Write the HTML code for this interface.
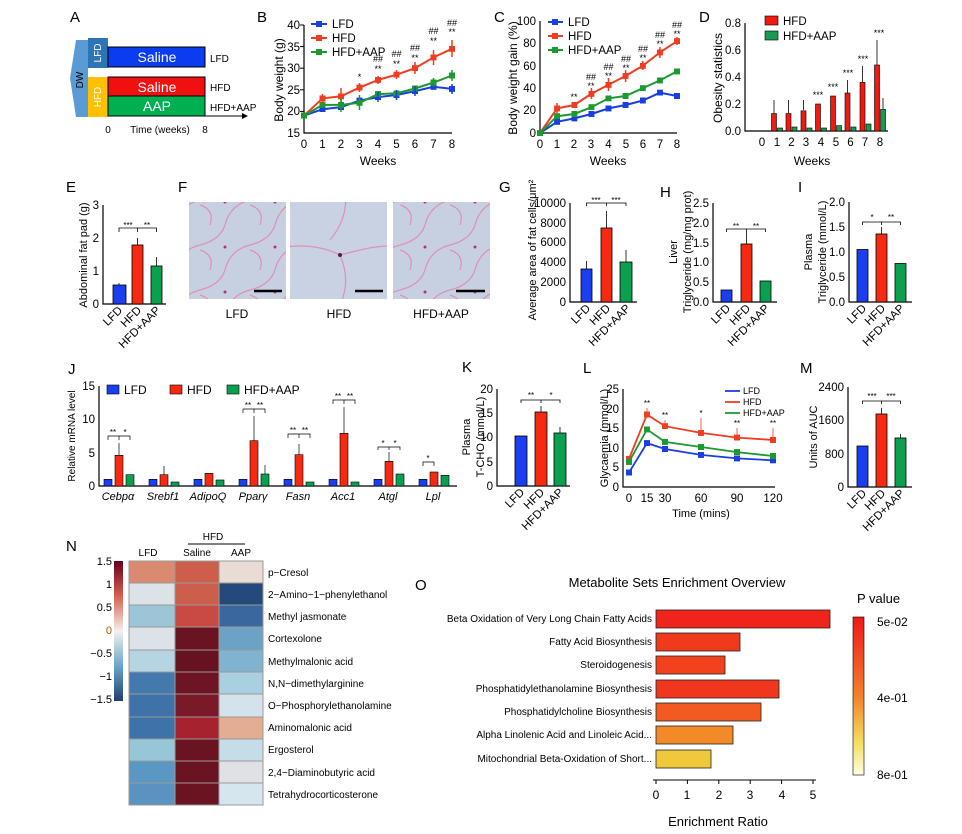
<!DOCTYPE html>
<html><head><meta charset="utf-8"><style>
body{margin:0;background:#fff}
svg{display:block;font-family:"Liberation Sans",Arial,sans-serif}
.t{font-size:11.5px}.s{font-size:10px}.L{font-size:15px}
.ax{stroke:#000;stroke-width:1.2;fill:none}
.mb{marker-start:url(#mb);marker-mid:url(#mb);marker-end:url(#mb)}
.mr{marker-start:url(#mr);marker-mid:url(#mr);marker-end:url(#mr)}
.mg{marker-start:url(#mg);marker-mid:url(#mg);marker-end:url(#mg)}
</style></head><body>
<svg width="962" height="834" viewBox="0 0 962 834" xmlns="http://www.w3.org/2000/svg">
<defs>
<marker id="mb" markerWidth="6" markerHeight="6" refX="3" refY="3" markerUnits="userSpaceOnUse"><rect width="6" height="6" fill="#1a3ee0"/></marker>
<marker id="mr" markerWidth="6" markerHeight="6" refX="3" refY="3" markerUnits="userSpaceOnUse"><rect width="6" height="6" fill="#f03c20"/></marker>
<marker id="mg" markerWidth="6" markerHeight="6" refX="3" refY="3" markerUnits="userSpaceOnUse"><rect width="6" height="6" fill="#1a9a30"/></marker>
</defs>
<!-- A -->
<text x="70" y="22" class="L">A</text>
<polygon points="76,40 88,40 88,117 76,117 70,78" fill="#5b9bd5"/>
<text transform="translate(83,80) rotate(-90)" class="s" text-anchor="middle">DW</text>
<rect x="88" y="38" width="20" height="30" fill="#2e75b6"/>
<text transform="translate(101,53) rotate(-90)" class="s" fill="#fff" text-anchor="middle">LFD</text>
<rect x="88" y="77" width="20" height="40" fill="#ffc000"/>
<text transform="translate(101,97) rotate(-90)" class="s" fill="#fff" text-anchor="middle">HFD</text>
<rect x="108" y="47" width="97" height="20" fill="#0b3cf0" stroke="#000"/>
<text x="157" y="62" font-size="14" fill="#fff" text-anchor="middle">Saline</text>
<rect x="108" y="77" width="97" height="19" fill="#f01010" stroke="#000"/>
<text x="157" y="92" font-size="14" fill="#fff" text-anchor="middle">Saline</text>
<rect x="108" y="96" width="97" height="20" fill="#00b050" stroke="#000"/>
<text x="157" y="111" font-size="14" fill="#fff" text-anchor="middle">AAP</text>
<text x="210" y="62" class="s">LFD</text><text x="210" y="91" class="s">HFD</text><text x="210" y="111" class="s">HFD+AAP</text>
<line x1="108" y1="116" x2="246" y2="116" stroke="#000"/><polygon points="248,116 242,113 242,119"/>
<text x="108" y="133" class="s" text-anchor="middle">0</text><text x="160" y="133" class="s" text-anchor="middle">Time (weeks)</text><text x="205" y="133" class="s" text-anchor="middle">8</text>

<!-- B -->
<text x="257" y="22" class="L">B</text>
<path class="ax" d="M304,25 V133 H452"/>
<g class="t" text-anchor="end"><text x="300" y="29">40</text><text x="300" y="51">35</text><text x="300" y="72">30</text><text x="300" y="94">25</text><text x="300" y="115">20</text><text x="300" y="137">15</text></g>
<g stroke="#000"><line x1="300" y1="25" x2="304" y2="25"/><line x1="300" y1="46.6" x2="304" y2="46.6"/><line x1="300" y1="68.2" x2="304" y2="68.2"/><line x1="300" y1="89.8" x2="304" y2="89.8"/><line x1="300" y1="111.4" x2="304" y2="111.4"/></g>
<g class="t" text-anchor="middle"><text x="304" y="148">0</text><text x="322.5" y="148">1</text><text x="341" y="148">2</text><text x="359.5" y="148">3</text><text x="378" y="148">4</text><text x="396.5" y="148">5</text><text x="415" y="148">6</text><text x="433.5" y="148">7</text><text x="452" y="148">8</text></g>
<text x="378" y="165" font-size="12" text-anchor="middle">Weeks</text>
<text transform="translate(283,80) rotate(-90)" font-size="12" text-anchor="middle">Body weight (g)</text>
<polyline class="mb" fill="none" stroke="#1a3ee0" stroke-width="2" points="304,115.7 322.5,109.2 341,107.1 359.5,100.6 378,97.1 396.5,95 415,91.1 433.5,86.8 452,88.9"/>
<polyline class="mr" fill="none" stroke="#f03c20" stroke-width="2" points="304,115.7 322.5,98.4 341,96.3 359.5,87.6 378,79.9 396.5,74.7 415,68.2 433.5,57.4 452,48.8"/>
<polyline class="mg" fill="none" stroke="#1a9a30" stroke-width="2" points="304,115.7 322.5,104.9 341,104.9 359.5,102.8 378,94.1 396.5,93.3 415,88.5 433.5,82.5 452,75.5"/>
<g stroke="#f03c20" stroke-width="1.5"><line x1="452" y1="40" x2="452" y2="57"/><line x1="433.5" y1="50" x2="433.5" y2="65"/><line x1="415" y1="62" x2="415" y2="74"/><line x1="396.5" y1="70" x2="396.5" y2="79"/><line x1="378" y1="76" x2="378" y2="84"/><line x1="359.5" y1="83" x2="359.5" y2="92"/><line x1="341" y1="88" x2="341" y2="104"/><line x1="322.5" y1="94" x2="322.5" y2="103"/></g>
<g stroke="#1a9a30" stroke-width="1.5"><line x1="341" y1="98" x2="341" y2="112"/><line x1="359.5" y1="95" x2="359.5" y2="110"/><line x1="452" y1="70" x2="452" y2="81"/><line x1="433.5" y1="78" x2="433.5" y2="87"/></g>
<g stroke="#1a3ee0" stroke-width="1.5"><line x1="378" y1="92" x2="378" y2="102"/><line x1="396.5" y1="90" x2="396.5" y2="100"/><line x1="415" y1="86" x2="415" y2="96"/><line x1="452" y1="84" x2="452" y2="94"/></g>
<g font-size="9" text-anchor="middle"><text x="359.5" y="80">*</text><text x="378" y="62">##</text><text x="378" y="72">**</text><text x="396.5" y="57">##</text><text x="396.5" y="67">**</text><text x="415" y="51">##</text><text x="415" y="61">**</text><text x="433.5" y="34">##</text><text x="433.5" y="44">**</text><text x="452" y="26">##</text><text x="452" y="35">**</text></g>
<g stroke-width="2"><line x1="311" y1="24" x2="327" y2="24" stroke="#1a3ee0"/><line x1="311" y1="38" x2="327" y2="38" stroke="#f03c20"/><line x1="311" y1="52" x2="327" y2="52" stroke="#1a9a30"/></g>
<rect x="316" y="21" width="6" height="6" fill="#1a3ee0"/><rect x="316" y="35" width="6" height="6" fill="#f03c20"/><rect x="316" y="49" width="6" height="6" fill="#1a9a30"/>
<g class="t"><text x="332" y="28">LFD</text><text x="332" y="42">HFD</text><text x="332" y="56">HFD+AAP</text></g>

<!-- C -->
<text x="494" y="22" class="L">C</text>
<path class="ax" d="M540,21 V133 H677"/>
<g class="t" text-anchor="end"><text x="536" y="25">100</text><text x="536" y="47">80</text><text x="536" y="70">60</text><text x="536" y="92">40</text><text x="536" y="114">20</text><text x="536" y="137">0</text></g>
<g class="t" text-anchor="middle"><text x="540" y="148">0</text><text x="557" y="148">1</text><text x="574" y="148">2</text><text x="591" y="148">3</text><text x="608.5" y="148">4</text><text x="626" y="148">5</text><text x="643" y="148">6</text><text x="660" y="148">7</text><text x="677" y="148">8</text></g>
<text x="608" y="165" font-size="12" text-anchor="middle">Weeks</text>
<text transform="translate(517,78) rotate(-90)" font-size="12" text-anchor="middle">Body weight gain (%)</text>
<polyline class="mb" fill="none" stroke="#1a3ee0" stroke-width="2" points="540,133 557.1,121.8 574.3,118.4 591.4,114 608.5,108.4 625.6,105 642.8,100.5 659.9,92.7 677,96"/>
<polyline class="mr" fill="none" stroke="#f03c20" stroke-width="2" points="540,133 557.1,108.4 574.3,105 591.4,93.8 608.5,84.8 625.6,75.9 642.8,65.8 659.9,52.4 677,41.2"/>
<polyline class="mg" fill="none" stroke="#1a9a30" stroke-width="2" points="540,133 557.1,116.2 574.3,114 591.4,107.2 608.5,98.3 625.6,96 642.8,88.2 659.9,80.4 677,71.4"/>
<g stroke="#f03c20" stroke-width="1.5"><line x1="557" y1="103" x2="557" y2="113"/><line x1="591.4" y1="88" x2="591.4" y2="99"/><line x1="608.5" y1="78" x2="608.5" y2="91"/><line x1="625.6" y1="70" x2="625.6" y2="82"/><line x1="642.8" y1="61" x2="642.8" y2="70"/><line x1="659.9" y1="47" x2="659.9" y2="58"/><line x1="677" y1="37" x2="677" y2="45"/></g>
<g font-size="9" text-anchor="middle"><text x="574" y="100">**</text><text x="591" y="80">##</text><text x="591" y="89">**</text><text x="608.5" y="70">##</text><text x="608.5" y="79">**</text><text x="626" y="62">##</text><text x="626" y="71">**</text><text x="643" y="52">##</text><text x="643" y="61">**</text><text x="660" y="38">##</text><text x="660" y="47">**</text><text x="677" y="28">##</text><text x="677" y="37">**</text></g>
<g stroke-width="2"><line x1="548" y1="22" x2="563" y2="22" stroke="#1a3ee0"/><line x1="548" y1="36" x2="563" y2="36" stroke="#f03c20"/><line x1="548" y1="50" x2="563" y2="50" stroke="#1a9a30"/></g>
<rect x="552" y="19" width="6" height="6" fill="#1a3ee0"/><rect x="552" y="33" width="6" height="6" fill="#f03c20"/><rect x="552" y="47" width="6" height="6" fill="#1a9a30"/>
<g class="t"><text x="568" y="26">LFD</text><text x="568" y="40">HFD</text><text x="568" y="54">HFD+AAP</text></g>

<!-- D -->
<text x="699" y="22" class="L">D</text>
<path class="ax" d="M745,23 V131 H888"/>
<g class="t" text-anchor="end"><text x="741" y="27">0.8</text><text x="741" y="54">0.6</text><text x="741" y="81">0.4</text><text x="741" y="108">0.2</text><text x="741" y="135">0.0</text></g>
<g class="t" text-anchor="middle"><text x="762" y="146">0</text><text x="777" y="146">1</text><text x="791.5" y="146">2</text><text x="806" y="146">3</text><text x="821" y="146">4</text><text x="836" y="146">5</text><text x="850.5" y="146">6</text><text x="865" y="146">7</text><text x="880" y="146">8</text></g>
<text x="812" y="165" font-size="12" text-anchor="middle">Weeks</text>
<text transform="translate(722,78) rotate(-90)" font-size="12" text-anchor="middle">Obesity statistics</text>
<g fill="#f01a10" stroke="#000" stroke-width=".6">
<rect x="771.5" y="113.5" width="5" height="17.5"/><rect x="786" y="113.5" width="5" height="17.5"/><rect x="801" y="110.8" width="5" height="20.2"/><rect x="815.5" y="104" width="5" height="27"/><rect x="830.5" y="96" width="5" height="35"/><rect x="845" y="93" width="5" height="38"/><rect x="860" y="82.4" width="5" height="48.6"/><rect x="874.5" y="65" width="5" height="66"/></g>
<g fill="#1a9a50" stroke="#000" stroke-width=".6">
<rect x="777.5" y="128" width="5" height="3"/><rect x="792" y="127" width="5" height="4"/><rect x="807" y="128" width="5" height="3"/><rect x="821.5" y="128" width="5" height="3"/><rect x="836.5" y="125.6" width="5" height="5.4"/><rect x="851" y="127" width="5" height="4"/><rect x="866" y="124" width="5" height="7"/><rect x="880.5" y="109.4" width="5" height="21.6"/></g>
<g stroke="#000" stroke-width=".8"><line x1="774" y1="113" x2="774" y2="100"/><line x1="788.5" y1="113" x2="788.5" y2="100"/><line x1="803.5" y1="110" x2="803.5" y2="100"/><line x1="877" y1="65" x2="877" y2="40"/><line x1="862.5" y1="82" x2="862.5" y2="66"/><line x1="847.5" y1="93" x2="847.5" y2="80"/><line x1="883" y1="109" x2="883" y2="98"/></g>
<g font-size="9" text-anchor="middle"><text x="818" y="98">***</text><text x="833" y="90">***</text><text x="848" y="76">***</text><text x="863" y="62">***</text><text x="879" y="36">***</text></g>
<rect x="765" y="16" width="13" height="9" fill="#f01a10" stroke="#000" stroke-width=".6"/><text x="783" y="25" class="t">HFD</text>
<rect x="765" y="31" width="13" height="9" fill="#1a9a50" stroke="#000" stroke-width=".6"/><text x="783" y="40" class="t">HFD+AAP</text>

<!-- E -->
<text x="66" y="192" class="L">E</text>
<path class="ax" d="M103,205 V304 H166"/>
<g class="t" text-anchor="end"><text x="99" y="209">3</text><text x="99" y="242">2</text><text x="99" y="275">1</text><text x="99" y="308">0</text></g>
<text transform="translate(87,255) rotate(-90)" font-size="11" text-anchor="middle">Abdominal fat pad (g)</text>
<rect x="113" y="285" width="13" height="19" fill="#1a3ef0" stroke="#000" stroke-width=".8"/>
<rect x="132" y="245" width="11" height="59" fill="#f52a10" stroke="#000" stroke-width=".8"/>
<rect x="151" y="266" width="11" height="38" fill="#0aa050" stroke="#000" stroke-width=".8"/>
<g stroke="#000" stroke-width=".8"><line x1="119" y1="285" x2="119" y2="283"/><line x1="137.5" y1="245" x2="137.5" y2="238"/><line x1="156.5" y1="266" x2="156.5" y2="257"/><path d="M119,232 V228 H137.5 V232 M137.5,228 H156.5 V232" fill="none"/></g>
<g font-size="8" text-anchor="middle"><text x="128" y="228">***</text><text x="147" y="228">**</text></g>
<g class="t" text-anchor="end"><text transform="translate(123,311) rotate(-45)">LFD</text><text transform="translate(142,311) rotate(-45)">HFD</text><text transform="translate(161,311) rotate(-45)">HFD+AAP</text></g>

<!-- F -->
<text x="178" y="192" class="L">F</text>
<defs><pattern id="fat" width="50" height="45" patternUnits="userSpaceOnUse"><rect width="50" height="45" fill="#c6d0e0"/><path d="M0,20 Q20,15 25,0 M25,45 Q30,25 50,20 M10,45 Q15,30 0,25" stroke="#e090b8" stroke-width="1.2" fill="none"/><circle cx="25" cy="22" r="1.5" fill="#c03070"/></pattern>
<pattern id="fat2" width="90" height="80" patternUnits="userSpaceOnUse"><rect width="90" height="80" fill="#c8d2e2"/><path d="M0,10 Q40,0 70,15 Q85,50 60,80 M70,15 Q90,10 90,10" stroke="#e090b8" stroke-width="1.2" fill="none"/><circle cx="70" cy="15" r="2" fill="#502040"/></pattern></defs>
<rect x="189" y="202" width="97" height="97" fill="url(#fat)"/>
<rect x="290" y="202" width="97" height="97" fill="url(#fat2)"/>
<rect x="393" y="202" width="97" height="97" fill="url(#fat)"/>
<g stroke="#000" stroke-width="2.5"><line x1="254" y1="291" x2="282" y2="291"/><line x1="355" y1="291" x2="383" y2="291"/><line x1="456" y1="291" x2="485" y2="291"/></g>
<g font-size="12" text-anchor="middle"><text x="237" y="318">LFD</text><text x="339" y="318">HFD</text><text x="441" y="318">HFD+AAP</text></g>

<!-- G -->
<text x="499" y="192" class="L">G</text>
<path class="ax" d="M570,203 V302 H637"/>
<g class="t" text-anchor="end"><text x="566" y="207">10000</text><text x="566" y="227">8000</text><text x="566" y="246">6000</text><text x="566" y="266">4000</text><text x="566" y="286">2000</text><text x="566" y="306">0</text></g>
<text transform="translate(536,250) rotate(-90)" font-size="11" text-anchor="middle">Average area of fat cells/μm²</text>
<rect x="581" y="269" width="11" height="33" fill="#1a3ef0" stroke="#000" stroke-width=".8"/>
<rect x="601" y="228" width="11" height="74" fill="#f52a10" stroke="#000" stroke-width=".8"/>
<rect x="620" y="262" width="12" height="40" fill="#0aa050" stroke="#000" stroke-width=".8"/>
<g stroke="#000" stroke-width=".8"><line x1="586.5" y1="269" x2="586.5" y2="261"/><line x1="606.5" y1="228" x2="606.5" y2="211"/><line x1="626" y1="262" x2="626" y2="250"/><path d="M586.5,206 V203 H606.5 V206 M606.5,203 H626 V206" fill="none"/></g>
<g font-size="8" text-anchor="middle"><text x="596" y="203">***</text><text x="616" y="203">***</text></g>
<g class="t" text-anchor="end"><text transform="translate(591,309) rotate(-45)">LFD</text><text transform="translate(611,309) rotate(-45)">HFD</text><text transform="translate(631,309) rotate(-45)">HFD+AAP</text></g>

<!-- H -->
<text x="660" y="197" class="L">H</text>
<path class="ax" d="M713,203 V302 H777"/>
<g class="t" text-anchor="end"><text x="709" y="207">2.5</text><text x="709" y="227">2.0</text><text x="709" y="247">1.5</text><text x="709" y="266">1.0</text><text x="709" y="286">0.5</text><text x="709" y="306">0.0</text></g>
<text transform="translate(677,252) rotate(-90)" font-size="11" text-anchor="middle">Liver</text>
<text transform="translate(691,252) rotate(-90)" font-size="11" text-anchor="middle">Triglyceride (mg/mg prot)</text>
<rect x="721" y="290" width="11" height="12" fill="#1a3ef0" stroke="#000" stroke-width=".8"/>
<rect x="741" y="244" width="11" height="58" fill="#f52a10" stroke="#000" stroke-width=".8"/>
<rect x="760" y="281" width="11" height="21" fill="#0aa050" stroke="#000" stroke-width=".8"/>
<g stroke="#000" stroke-width=".8"><line x1="746.5" y1="244" x2="746.5" y2="232"/><path d="M726.5,232 V229 H746.5 V232 M746.5,229 H765.5 V232" fill="none"/></g>
<g font-size="8" text-anchor="middle"><text x="736" y="229">**</text><text x="756" y="229">**</text></g>
<g class="t" text-anchor="end"><text transform="translate(731,309) rotate(-45)">LFD</text><text transform="translate(751,309) rotate(-45)">HFD</text><text transform="translate(770,309) rotate(-45)">HFD+AAP</text></g>

<!-- I -->
<text x="798" y="192" class="L">I</text>
<path class="ax" d="M849,202 V302 H912"/>
<g class="t" text-anchor="end"><text x="845" y="206">2.0</text><text x="845" y="231">1.5</text><text x="845" y="256">1.0</text><text x="845" y="281">0.5</text><text x="845" y="306">0.0</text></g>
<text transform="translate(812,252) rotate(-90)" font-size="11" text-anchor="middle">Plasma</text>
<text transform="translate(826,252) rotate(-90)" font-size="11" text-anchor="middle">Triglyceride (mmol/L)</text>
<rect x="857" y="249.5" width="11" height="52.5" fill="#1a3ef0" stroke="#000" stroke-width=".8"/>
<rect x="876" y="234" width="11" height="68" fill="#f52a10" stroke="#000" stroke-width=".8"/>
<rect x="895" y="263.5" width="11" height="38.5" fill="#0aa050" stroke="#000" stroke-width=".8"/>
<g stroke="#000" stroke-width=".8"><line x1="881.5" y1="234" x2="881.5" y2="227"/><path d="M862.5,225 V222 H881.5 V225 M881.5,222 H900.5 V225" fill="none"/></g>
<g font-size="8" text-anchor="middle"><text x="872" y="220">*</text><text x="891" y="220">**</text></g>
<g class="t" text-anchor="end"><text transform="translate(867,309) rotate(-45)">LFD</text><text transform="translate(886,309) rotate(-45)">HFD</text><text transform="translate(905,309) rotate(-45)">HFD+AAP</text></g>

<!-- J -->
<text x="68" y="374" class="L">J</text>
<path class="ax" d="M99,386 V486 H457"/>
<g class="t" text-anchor="end"><text x="95" y="390">15</text><text x="95" y="423">10</text><text x="95" y="457">5</text><text x="95" y="490">0</text></g>
<text transform="translate(75,436) rotate(-90)" font-size="10" text-anchor="middle">Relative mRNA level</text>
<rect x="107" y="385" width="12" height="9" fill="#1a3ef0" stroke="#000" stroke-width=".6"/><text x="124" y="394" font-size="12">LFD</text>
<rect x="170" y="385" width="12" height="9" fill="#f52a10" stroke="#000" stroke-width=".6"/><text x="187" y="394" font-size="12">HFD</text>
<rect x="227" y="385" width="12" height="9" fill="#0aa050" stroke="#000" stroke-width=".6"/><text x="244" y="394" font-size="12">HFD+AAP</text>
<g fill="#1a3ef0" stroke="#000" stroke-width=".6">
<rect x="104" y="479.3" width="8" height="6.7"/><rect x="149" y="479.3" width="8" height="6.7"/><rect x="194" y="479.3" width="8" height="6.7"/><rect x="239" y="479.3" width="8" height="6.7"/><rect x="284" y="479.3" width="8" height="6.7"/><rect x="329" y="479.3" width="8" height="6.7"/><rect x="374" y="479.3" width="8" height="6.7"/><rect x="419" y="479.3" width="8" height="6.7"/></g>
<g fill="#f52a10" stroke="#000" stroke-width=".6">
<rect x="115" y="455.3" width="8" height="30.7"/><rect x="160" y="474.7" width="8" height="11.3"/><rect x="205" y="473.3" width="8" height="12.7"/><rect x="250" y="440.7" width="8" height="45.3"/><rect x="295" y="454.7" width="8" height="31.3"/><rect x="340" y="433.3" width="8" height="52.7"/><rect x="385" y="461.3" width="8" height="24.7"/><rect x="430" y="472" width="8" height="14"/></g>
<g fill="#0aa050" stroke="#000" stroke-width=".6">
<rect x="126" y="474.7" width="8" height="11.3"/><rect x="171" y="482" width="8" height="4"/><rect x="216" y="480" width="8" height="6"/><rect x="261" y="474" width="8" height="12"/><rect x="306" y="482" width="8" height="4"/><rect x="351" y="482" width="8" height="4"/><rect x="396" y="474" width="8" height="12"/><rect x="441" y="475.3" width="8" height="10.7"/></g>
<g stroke="#000" stroke-width=".7" fill="none"><line x1="119" y1="455" x2="119" y2="443"/><line x1="254" y1="441" x2="254" y2="416"/><line x1="344" y1="433" x2="344" y2="407"/><line x1="299" y1="455" x2="299" y2="444"/><line x1="389" y1="461" x2="389" y2="452"/><line x1="164" y1="475" x2="164" y2="466"/><line x1="265" y1="474" x2="265" y2="465"/>
<path d="M108,440 V436 H119 V440 M119,436 H130 V440 M243,413 V409 H254 V413 M254,409 H265 V413 M288,438 V434 H299 V438 M299,434 H310 V438 M333,404 V400 H344 V404 M344,400 H355 V404 M378,450 V447 H389 V450 M389,447 H400 V450 M423,466 V462 H434 V466"/></g>
<g font-size="8" text-anchor="middle"><text x="113" y="435">**</text><text x="125" y="435">*</text><text x="248" y="408">**</text><text x="260" y="408">**</text><text x="293" y="433">**</text><text x="305" y="433">**</text><text x="338" y="399">**</text><text x="350" y="399">**</text><text x="383" y="446">*</text><text x="395" y="446">*</text><text x="428" y="461">*</text></g>
<g font-size="11" font-style="italic" text-anchor="middle"><text x="118" y="500">Cebpα</text><text x="163" y="500">Srebf1</text><text x="208" y="500">AdipoQ</text><text x="253" y="500">Pparγ</text><text x="298" y="500">Fasn</text><text x="343" y="500">Acc1</text><text x="388" y="500">Atgl</text><text x="433" y="500">Lpl</text></g>

<!-- K -->
<text x="462" y="372" class="L">K</text>
<path class="ax" d="M497,389 V486 H570"/>
<g class="t" text-anchor="end"><text x="493" y="393">20</text><text x="493" y="417">15</text><text x="493" y="441">10</text><text x="493" y="466">5</text><text x="493" y="490">0</text></g>
<text transform="translate(470,437) rotate(-90)" font-size="11" text-anchor="middle">Plasma</text>
<text transform="translate(484,437) rotate(-90)" font-size="11" text-anchor="middle">T-CHO (mmol/L)</text>
<rect x="515" y="436" width="12" height="50" fill="#1a3ef0" stroke="#000" stroke-width=".8"/>
<rect x="535" y="412" width="12" height="74" fill="#f52a10" stroke="#000" stroke-width=".8"/>
<rect x="554" y="433" width="12" height="53" fill="#0aa050" stroke="#000" stroke-width=".8"/>
<g stroke="#000" stroke-width=".8" fill="none"><line x1="541" y1="412" x2="541" y2="406"/><line x1="560" y1="433" x2="560" y2="427"/><path d="M521,403 V400 H541 V403 M541,400 H560 V403"/></g>
<g font-size="8" text-anchor="middle"><text x="531" y="398">**</text><text x="551" y="398">*</text></g>
<g class="t" text-anchor="end"><text transform="translate(525,493) rotate(-45)">LFD</text><text transform="translate(545,493) rotate(-45)">HFD</text><text transform="translate(564,493) rotate(-45)">HFD+AAP</text></g>

<!-- L -->
<text x="583" y="373" class="L">L</text>
<path class="ax" d="M623,389 V487 H775"/>
<g class="t" text-anchor="end"><text x="619" y="393">25</text><text x="619" y="413">20</text><text x="619" y="432">15</text><text x="619" y="452">10</text><text x="619" y="471">5</text><text x="619" y="491">0</text></g>
<text transform="translate(608,438) rotate(-90)" font-size="11" text-anchor="middle">Glycaemia (mmol/L)</text>
<g class="t" text-anchor="middle"><text x="629" y="502">0</text><text x="647" y="502">15</text><text x="665" y="502">30</text><text x="701" y="502">60</text><text x="737" y="502">90</text><text x="773" y="502">120</text></g>
<text x="701" y="517" font-size="11" text-anchor="middle">Time (mins)</text>
<polyline class="mb" fill="none" stroke="#1a3ee0" stroke-width="1.8" points="629,472.5 647,443.1 665,449 701,454.9 737,458.4 773,460.3"/>
<polyline class="mr" fill="none" stroke="#f03c20" stroke-width="1.8" points="629,458.8 647,414.5 665,426.2 701,432.9 737,437.6 773,440"/>
<polyline class="mg" fill="none" stroke="#1a9a30" stroke-width="1.8" points="629,461.9 647,429.4 665,441.9 701,447 737,452.1 773,456"/>
<g stroke="#f03c20" stroke-width=".8"><line x1="647" y1="414" x2="647" y2="408"/><line x1="665" y1="426" x2="665" y2="420"/><line x1="701" y1="433" x2="701" y2="418"/><line x1="737" y1="437" x2="737" y2="428"/><line x1="773" y1="440" x2="773" y2="428"/></g>
<g font-size="8" text-anchor="middle"><text x="647" y="406">**</text><text x="665" y="418">**</text><text x="701" y="416">*</text><text x="737" y="426">**</text><text x="773" y="426">**</text></g>
<g stroke-width="1.8"><line x1="725" y1="391" x2="740" y2="391" stroke="#1a3ee0"/><line x1="725" y1="402" x2="740" y2="402" stroke="#f03c20"/><line x1="725" y1="413" x2="740" y2="413" stroke="#1a9a30"/></g>
<g font-size="9"><text x="743" y="394">LFD</text><text x="743" y="405">HFD</text><text x="743" y="416">HFD+AAP</text></g>

<!-- M -->
<text x="800" y="373" class="L">M</text>
<path class="ax" d="M848,387 V487 H912"/>
<g class="t" text-anchor="end"><text x="844" y="391">2400</text><text x="844" y="424">1600</text><text x="844" y="458">800</text><text x="844" y="491">0</text></g>
<text transform="translate(817,437) rotate(-90)" font-size="11" text-anchor="middle">Units of AUC</text>
<rect x="857" y="446" width="11" height="41" fill="#1a3ef0" stroke="#000" stroke-width=".8"/>
<rect x="876" y="414" width="11" height="73" fill="#f52a10" stroke="#000" stroke-width=".8"/>
<rect x="895" y="438" width="11" height="49" fill="#0aa050" stroke="#000" stroke-width=".8"/>
<g stroke="#000" stroke-width=".8" fill="none"><line x1="881.5" y1="414" x2="881.5" y2="408"/><line x1="900.5" y1="438" x2="900.5" y2="434"/><path d="M862.5,404 V401 H881.5 V404 M881.5,401 H900.5 V404"/></g>
<g font-size="8" text-anchor="middle"><text x="872" y="399">***</text><text x="891" y="399">***</text></g>
<g class="t" text-anchor="end"><text transform="translate(867,494) rotate(-45)">LFD</text><text transform="translate(886,494) rotate(-45)">HFD</text><text transform="translate(905,494) rotate(-45)">HFD+AAP</text></g>

<!-- N -->
<text x="66" y="551" class="L">N</text>
<defs><linearGradient id="cb" x1="0" y1="0" x2="0" y2="1"><stop offset="0" stop-color="#67001f"/><stop offset=".25" stop-color="#d6604d"/><stop offset=".5" stop-color="#f4f0ee"/><stop offset=".75" stop-color="#6aa5cc"/><stop offset="1" stop-color="#1f3f6f"/></linearGradient>
<linearGradient id="pv" x1="0" y1="0" x2="0" y2="1"><stop offset="0" stop-color="#f01818"/><stop offset=".5" stop-color="#f48028"/><stop offset=".8" stop-color="#f4e060"/><stop offset="1" stop-color="#fffee0"/></linearGradient></defs>
<rect x="114" y="561" width="9" height="140" fill="url(#cb)"/>
<g font-size="11" text-anchor="end"><text x="112" y="565">1.5</text><text x="112" y="588">1</text><text x="112" y="611">0.5</text><text x="112" y="634" fill="#b06000">0</text><text x="112" y="657">−0.5</text><text x="112" y="680">−1</text><text x="112" y="703">−1.5</text></g>
<g font-size="10" text-anchor="middle"><text x="148" y="556">LFD</text><text x="197" y="556">Saline</text><text x="241" y="556">AAP</text><text x="213" y="540">HFD</text></g>
<line x1="188" y1="544" x2="245" y2="544" stroke="#000"/>
<g stroke="#999" stroke-width="1">
<rect x="129" y="561" width="46" height="22" fill="#d98a70"/><rect x="175" y="561" width="44" height="22" fill="#cd5e4c"/><rect x="219" y="561" width="44" height="22" fill="#e8dcd5"/>
<rect x="129" y="583" width="46" height="22" fill="#dbe3e8"/><rect x="175" y="583" width="44" height="22" fill="#cc5f4c"/><rect x="219" y="583" width="44" height="22" fill="#234a7a"/>
<rect x="129" y="605" width="46" height="22" fill="#9ac6d8"/><rect x="175" y="605" width="44" height="22" fill="#c94a45"/><rect x="219" y="605" width="44" height="22" fill="#3b679f"/>
<rect x="129" y="627" width="46" height="23" fill="#dce3e8"/><rect x="175" y="627" width="44" height="23" fill="#6a1422"/><rect x="219" y="627" width="44" height="23" fill="#6aa3c6"/>
<rect x="129" y="650" width="46" height="22" fill="#b5d5e3"/><rect x="175" y="650" width="44" height="22" fill="#661221"/><rect x="219" y="650" width="44" height="22" fill="#80b3cf"/>
<rect x="129" y="672" width="46" height="22" fill="#4479ad"/><rect x="175" y="672" width="44" height="22" fill="#6d1524"/><rect x="219" y="672" width="44" height="22" fill="#a9cfe0"/>
<rect x="129" y="694" width="46" height="23" fill="#3f72a8"/><rect x="175" y="694" width="44" height="23" fill="#7a1a28"/><rect x="219" y="694" width="44" height="23" fill="#d3e3ec"/>
<rect x="129" y="717" width="46" height="22" fill="#3e73a9"/><rect x="175" y="717" width="44" height="22" fill="#a5222e"/><rect x="219" y="717" width="44" height="22" fill="#e2ad91"/>
<rect x="129" y="739" width="46" height="22" fill="#97c6d9"/><rect x="175" y="739" width="44" height="22" fill="#6a1422"/><rect x="219" y="739" width="44" height="22" fill="#c5dde9"/>
<rect x="129" y="761" width="46" height="22" fill="#5a97c2"/><rect x="175" y="761" width="44" height="22" fill="#6a1422"/><rect x="219" y="761" width="44" height="22" fill="#dfe1e4"/>
<rect x="129" y="783" width="46" height="22" fill="#5a93c0"/><rect x="175" y="783" width="44" height="22" fill="#6a1422"/><rect x="219" y="783" width="44" height="22" fill="#d6e6ef"/></g>
<g font-size="10"><text x="268" y="576">p−Cresol</text><text x="268" y="598">2−Amino−1−phenylethanol</text><text x="268" y="620">Methyl jasmonate</text><text x="268" y="642">Cortexolone</text><text x="268" y="665">Methylmalonic acid</text><text x="268" y="687">N,N−dimethylarginine</text><text x="268" y="709">O−Phosphorylethanolamine</text><text x="268" y="731">Aminomalonic acid</text><text x="268" y="753">Ergosterol</text><text x="268" y="776">2,4−Diaminobutyric acid</text><text x="268" y="798">Tetrahydrocorticosterone</text></g>

<!-- O -->
<text x="415" y="590" class="L">O</text>
<text x="677" y="587" font-size="13" text-anchor="middle">Metabolite Sets Enrichment Overview</text>
<g stroke="#222" stroke-width=".8">
<rect x="656" y="610" width="174" height="18" fill="#f0241a"/>
<rect x="656" y="633" width="84" height="18" fill="#f03a1c"/>
<rect x="656" y="656" width="69" height="18" fill="#f2421c"/>
<rect x="656" y="680" width="123" height="18" fill="#f0361c"/>
<rect x="656" y="703" width="105" height="18" fill="#f25a22"/>
<rect x="656" y="726" width="77" height="18" fill="#f38a28"/>
<rect x="656" y="750" width="55" height="18" fill="#efc83c"/></g>
<g font-size="10" text-anchor="end"><text x="652" y="622">Beta Oxidation of Very Long Chain Fatty Acids</text><text x="652" y="645">Fatty Acid Biosynthesis</text><text x="652" y="668">Steroidogenesis</text><text x="652" y="692">Phosphatidylethanolamine Biosynthesis</text><text x="652" y="715">Phosphatidylcholine Biosynthesis</text><text x="652" y="738">Alpha Linolenic Acid and Linoleic Acid...</text><text x="652" y="762">Mitochondrial Beta-Oxidation of Short...</text></g>
<line x1="653" y1="780" x2="816" y2="780" stroke="#000"/>
<g stroke="#000"><line x1="656" y1="780" x2="656" y2="784"/><line x1="687.4" y1="780" x2="687.4" y2="784"/><line x1="718.8" y1="780" x2="718.8" y2="784"/><line x1="750.2" y1="780" x2="750.2" y2="784"/><line x1="781.6" y1="780" x2="781.6" y2="784"/><line x1="813" y1="780" x2="813" y2="784"/></g>
<g font-size="12" text-anchor="middle"><text x="656" y="799">0</text><text x="687" y="799">1</text><text x="719" y="799">2</text><text x="750" y="799">3</text><text x="782" y="799">4</text><text x="813" y="799">5</text></g>
<text x="718" y="826" font-size="13" text-anchor="middle">Enrichment Ratio</text>
<text x="857" y="603" font-size="13">P value</text>
<rect x="853" y="617" width="11" height="158" fill="url(#pv)" stroke="#000" stroke-width=".6"/>
<g font-size="12"><text x="877" y="626">5e-02</text><text x="877" y="702">4e-01</text><text x="877" y="779">8e-01</text></g>
</svg>
</body></html>
